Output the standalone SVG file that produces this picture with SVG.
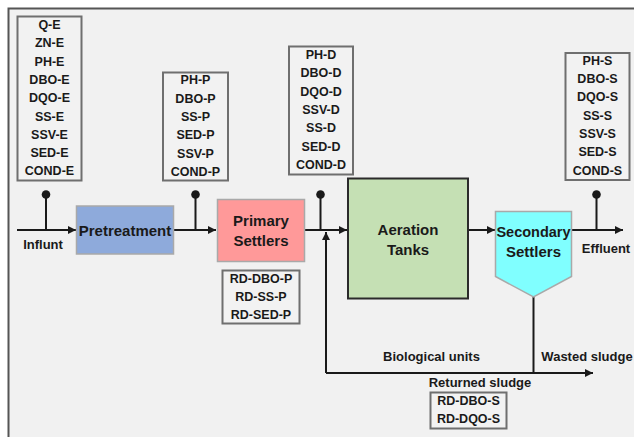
<svg xmlns="http://www.w3.org/2000/svg" width="634" height="437" viewBox="0 0 634 437">
  <defs>
    <marker id="arrow" viewBox="0 0 10 10" refX="10" refY="5" markerWidth="10" markerHeight="8" markerUnits="userSpaceOnUse" orient="auto">
      <path d="M0,0 L10,5 L0,10 z" fill="#1a1a1a"/>
    </marker>
    <style>
      text { font-family: "Liberation Sans", Arial, sans-serif; font-weight: bold; fill: #1a1a1a; text-anchor: middle; dominant-baseline: central; }
      .var { font-size: 12.5px; }
      .unit { font-size: 15px; }
      .lbl { font-size: 13px; }
      .vbox { fill: #f2f2f2; stroke: #6f6f6f; stroke-width: 2; }
      .flow { fill: none; stroke: #1a1a1a; stroke-width: 2; }
      .pin { fill: #1a1a1a; }
    </style>
  </defs>

  <!-- background frame -->
  <rect x="0" y="0" width="634" height="437" fill="#ffffff"/>
  <rect x="8.5" y="8.5" width="640" height="440" fill="#f1f1f1" stroke="#555555" stroke-width="2"/>

  <!-- connectors -->
  <g id="connectors">
    <path class="flow" d="M17,230 H76" marker-end="url(#arrow)"/>
    <path class="flow" d="M174,230 H216" marker-end="url(#arrow)"/>
    <path class="flow" d="M305,230 H347" marker-end="url(#arrow)"/>
    <path class="flow" d="M468,230 H495" marker-end="url(#arrow)"/>
    <path class="flow" d="M572,230 H623" marker-end="url(#arrow)"/>
    <path class="flow" d="M533.5,297 V373"/>
    <path class="flow" d="M326,373 H593" marker-end="url(#arrow)"/>
    <path class="flow" d="M326,373 V232" marker-end="url(#arrow)"/>
    <!-- measurement pins -->
    <path class="flow" d="M46,194 V230 M195.5,194 V230 M320.5,194 V230 M596.5,194 V230"/>
    <circle class="pin" cx="46" cy="194.5" r="4.3"/>
    <circle class="pin" cx="195.5" cy="194.5" r="4.3"/>
    <circle class="pin" cx="320.5" cy="194.5" r="4.3"/>
    <circle class="pin" cx="596.5" cy="194.5" r="4.3"/>
  </g>

  <!-- process units -->
  <g id="pretreatment">
    <rect x="76.5" y="206" width="97" height="48" fill="#8eaadb" stroke="#a9a9a9" stroke-width="1.5"/>
    <text class="unit" x="125" y="230">Pretreatment</text>
  </g>
  <g id="primary-settlers">
    <rect x="217.5" y="199.5" width="87" height="62" fill="#ff9999" stroke="#a9a9a9" stroke-width="1.5"/>
    <text class="unit" x="261" y="220">Primary</text>
    <text class="unit" x="261" y="240.5">Settlers</text>
  </g>
  <g id="aeration-tanks">
    <rect x="348" y="178.5" width="120" height="120" fill="#c5e0b4" stroke="#2b2b2b" stroke-width="2"/>
    <text class="unit" x="408" y="229.5">Aeration</text>
    <text class="unit" x="408" y="249">Tanks</text>
  </g>
  <g id="secondary-settlers">
    <path d="M495.5,211.5 H571.5 V276.5 L533.5,297 L495.5,276.5 Z" fill="#80ffff" stroke="#a9a9a9" stroke-width="1.5"/>
    <text class="unit" x="533.5" y="232" style="font-size:14.5px">Secondary</text>
    <text class="unit" x="533.5" y="251.5">Settlers</text>
  </g>

  <!-- flow labels -->
  <g id="labels">
    <text class="lbl" x="43" y="244">Influnt</text>
    <text class="lbl" x="606" y="248">Effluent</text>
    <text class="lbl" x="431.5" y="356.5">Biological units</text>
    <text class="lbl" x="587" y="356.5">Wasted sludge</text>
    <text class="lbl" x="480" y="382.5">Returned sludge</text>
  </g>

  <!-- measured variables -->
  <g id="vars-influent">
    <rect class="vbox" x="17.5" y="16.5" width="64" height="164"/>
    <text class="var" x="49.5" y="25">Q-E</text>
    <text class="var" x="49.5" y="43.3">ZN-E</text>
    <text class="var" x="49.5" y="61.6">PH-E</text>
    <text class="var" x="49.5" y="79.9">DBO-E</text>
    <text class="var" x="49.5" y="98.2">DQO-E</text>
    <text class="var" x="49.5" y="116.5">SS-E</text>
    <text class="var" x="49.5" y="134.8">SSV-E</text>
    <text class="var" x="49.5" y="153.1">SED-E</text>
    <text class="var" x="49.5" y="171.4">COND-E</text>
  </g>
  <g id="vars-primary">
    <rect class="vbox" x="163" y="72.5" width="65" height="108"/>
    <text class="var" x="195.5" y="80.3">PH-P</text>
    <text class="var" x="195.5" y="98.6">DBO-P</text>
    <text class="var" x="195.5" y="116.9">SS-P</text>
    <text class="var" x="195.5" y="135.2">SED-P</text>
    <text class="var" x="195.5" y="153.5">SSV-P</text>
    <text class="var" x="195.5" y="171.8">COND-P</text>
  </g>
  <g id="vars-aeration">
    <rect class="vbox" x="289" y="46.5" width="64" height="128"/>
    <text class="var" x="321" y="55">PH-D</text>
    <text class="var" x="321" y="73.3">DBO-D</text>
    <text class="var" x="321" y="91.6">DQO-D</text>
    <text class="var" x="321" y="109.9">SSV-D</text>
    <text class="var" x="321" y="128.2">SS-D</text>
    <text class="var" x="321" y="146.5">SED-D</text>
    <text class="var" x="321" y="164.8">COND-D</text>
  </g>
  <g id="vars-effluent">
    <rect class="vbox" x="565.5" y="53" width="64" height="127"/>
    <text class="var" x="597.5" y="60.7">PH-S</text>
    <text class="var" x="597.5" y="79">DBO-S</text>
    <text class="var" x="597.5" y="97.4">DQO-S</text>
    <text class="var" x="597.5" y="115.7">SS-S</text>
    <text class="var" x="597.5" y="134">SSV-S</text>
    <text class="var" x="597.5" y="152.4">SED-S</text>
    <text class="var" x="597.5" y="170.7">COND-S</text>
  </g>
  <g id="removal-primary">
    <rect class="vbox" x="222.5" y="270.5" width="77" height="53"/>
    <text class="var" x="261" y="278.5">RD-DBO-P</text>
    <text class="var" x="261" y="296.8">RD-SS-P</text>
    <text class="var" x="261" y="315">RD-SED-P</text>
  </g>
  <g id="removal-secondary">
    <rect class="vbox" x="430.5" y="392.5" width="76" height="36"/>
    <text class="var" x="468.5" y="401">RD-DBO-S</text>
    <text class="var" x="468.5" y="419.3">RD-DQO-S</text>
  </g>
</svg>
